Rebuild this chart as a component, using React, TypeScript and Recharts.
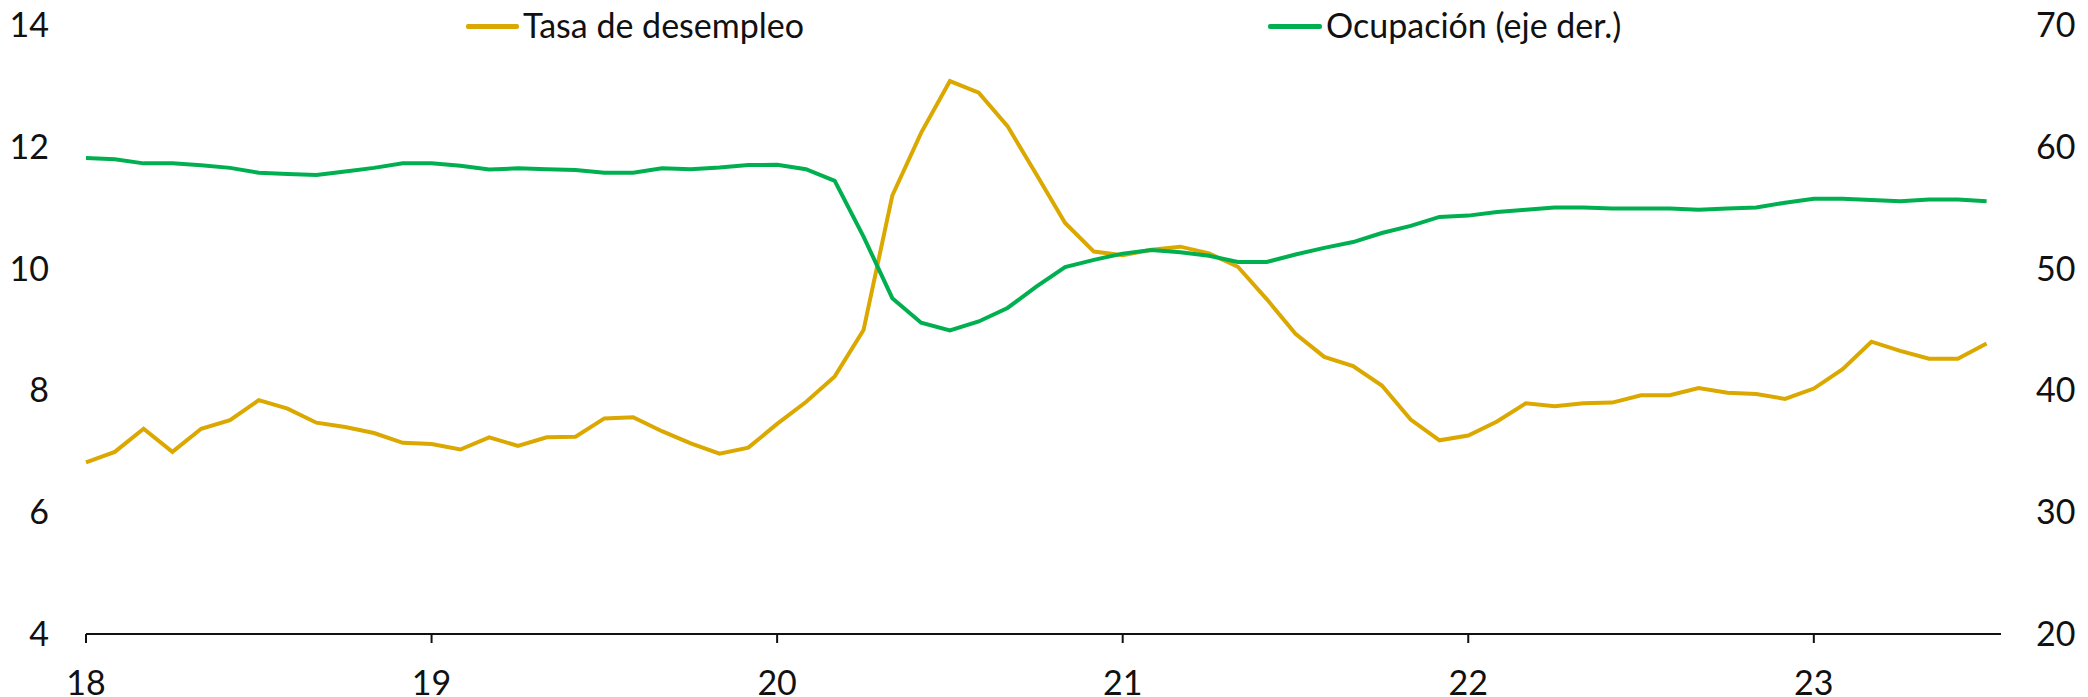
import { LineChart, Line, XAxis, YAxis, Legend } from 'recharts';

// monthly, Jan 2018 .. Jul 2023
const yearLabels = ['18', '19', '20', '21', '22', '23'];
const yearTicks = [0, 12, 24, 36, 48, 60];

const unemployment = [
  6.82, 6.99, 7.37, 6.99, 7.37, 7.51, 7.84, 7.7, 7.47, 7.4, 7.3, 7.14,
  7.12, 7.03, 7.23, 7.09, 7.23, 7.24, 7.54, 7.56, 7.33, 7.13, 6.96, 7.06,
  7.45, 7.81, 8.23, 8.99, 11.2, 12.23, 13.08, 12.89, 12.34, 11.55, 10.75, 10.28,
  10.22, 10.31, 10.36, 10.25, 10.03, 9.5, 8.93, 8.55, 8.4, 8.08, 7.52, 7.18,
  7.26, 7.49, 7.79, 7.74, 7.79, 7.8, 7.92, 7.92, 8.04, 7.96, 7.94, 7.86,
  8.03, 8.35, 8.8, 8.65, 8.52, 8.52, 8.77,
];

const employment = [
  59.08, 58.97, 58.64, 58.64, 58.49, 58.27, 57.87, 57.76, 57.68, 57.98, 58.27, 58.64,
  58.64, 58.45, 58.13, 58.23, 58.16, 58.09, 57.87, 57.87, 58.23, 58.16, 58.3, 58.5,
  58.52, 58.16, 57.21, 52.63, 47.57, 45.55, 44.93, 45.66, 46.77, 48.52, 50.13, 50.72,
  51.23, 51.53, 51.35, 51.05, 50.54, 50.54, 51.16, 51.7, 52.18, 52.92, 53.51, 54.24,
  54.35, 54.65, 54.83, 55.01, 55.01, 54.94, 54.94, 54.94, 54.83, 54.94, 55.01, 55.41,
  55.74, 55.74, 55.63, 55.52, 55.67, 55.67, 55.52,
];

const leftTicks = [4, 6, 8, 10, 12, 14];
const rightTicks = [20, 30, 40, 50, 60, 70];

const data = unemployment.map((u, i) => ({ m: i, desempleo: u, ocupacion: employment[i] }));

const YELLOW = '#DBA800';
const GREEN = '#00B050';
const FONT = 'Lato, sans-serif';
const FS = 34;

// zero-height legend so it doesn't push the plot down
const renderLegend = () => (
  <div style={{ position: 'relative', height: 0, overflow: 'visible', fontFamily: FONT, fontSize: FS, color: '#111' }}>
    <div style={{ position: 'absolute', left: 466, top: 24, width: 53, height: 5, borderRadius: 2, background: YELLOW }} />
    <span style={{ position: 'absolute', left: 523, top: 4, lineHeight: '42px', whiteSpace: 'nowrap' }}>Tasa de desempleo</span>
    <div style={{ position: 'absolute', left: 1268, top: 24, width: 54, height: 5, borderRadius: 2, background: GREEN }} />
    <span style={{ position: 'absolute', left: 1326, top: 4, lineHeight: '42px', whiteSpace: 'nowrap' }}>Ocupación (eje der.)</span>
  </div>
);

const App = () => {
  const tick = { fill: '#111', fontSize: FS, fontFamily: FONT };
  return (
    <div style={{ width: 2088, height: 697, background: '#fff' }}>
      <style>{'body{margin:0}'}</style>
      <LineChart width={2088} height={697} data={data} margin={{ top: 25, right: 0, bottom: 0, left: 0 }}>
        <XAxis
          dataKey="m"
          type="number"
          domain={[0, 66.5]}
          ticks={yearTicks}
          tickFormatter={(v: number) => yearLabels[yearTicks.indexOf(v)]}
          height={63}
          tick={tick}
          tickSize={9}
          tickMargin={28}
          axisLine={{ stroke: '#111', strokeWidth: 2 }}
          tickLine={{ stroke: '#111', strokeWidth: 2 }}
        />
        <YAxis
          yAxisId="left"
          domain={[4, 14]}
          ticks={leftTicks}
          width={86}
          tick={tick}
          axisLine={false}
          tickLine={false}
          tickSize={0}
          tickMargin={37}
        />
        <YAxis
          yAxisId="right"
          orientation="right"
          domain={[20, 70]}
          ticks={rightTicks}
          width={87}
          tick={{ ...tick, textAnchor: 'start' }}
          axisLine={false}
          tickLine={false}
          tickSize={0}
          tickMargin={35}
        />
        <Legend verticalAlign="top" height={0} content={renderLegend} wrapperStyle={{ top: 0, left: 0, width: 2088, height: 0 }} />
        <Line
          yAxisId="left"
          dataKey="desempleo"
          stroke={YELLOW}
          strokeWidth={4}
          dot={false}
          isAnimationActive={false}
          type="linear"
        />
        <Line
          yAxisId="right"
          dataKey="ocupacion"
          stroke={GREEN}
          strokeWidth={4}
          dot={false}
          isAnimationActive={false}
          type="linear"
        />
      </LineChart>
    </div>
  );
};

export default App;
